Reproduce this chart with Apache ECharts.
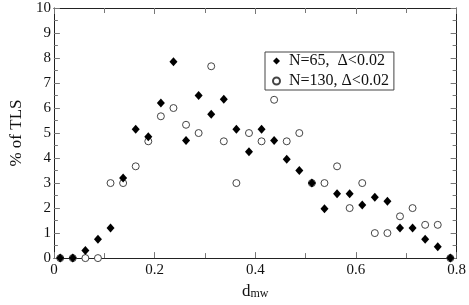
<!DOCTYPE html>
<html>
<head>
<meta charset="utf-8">
<script src="https://cdn.jsdelivr.net/npm/echarts@6/dist/echarts.min.js"></script>
<style>html,body{margin:0;padding:0;background:#fff;}#c{width:469px;height:305px;}</style>
</head>
<body>
<div id="c"></div>
<script>
// bin centres of d_mw
const binCenters = [0.0125,0.0375,0.0625,0.0875,0.1125,0.1375,0.1625,0.1875,0.2125,0.2375,0.2625,0.2875,0.3125,0.3375,0.3625,0.3875,0.4125,0.4375,0.4625,0.4875,0.5125,0.5375,0.5625,0.5875,0.6125,0.6375,0.6625,0.6875,0.7125,0.7375,0.7625,0.7875];
// N=65 (filled diamonds), % of TLS
const n65 = [0,0,0.3,0.75,1.2,3.2,5.15,4.85,6.2,7.85,4.7,6.5,5.75,6.35,5.15,4.25,5.15,4.7,3.95,3.5,3.0,1.97,2.57,2.57,2.12,2.43,2.27,1.2,1.2,0.75,0.45,0];
// N=130 (open circles), % of TLS
const n130 = [0,0,0,0,3.0,3.0,3.67,4.67,5.67,6.0,5.33,5.0,7.67,4.67,3.0,5.0,4.67,6.33,4.67,5.0,3.0,3.0,3.67,2.0,3.0,1.0,1.0,1.67,2.0,1.33,1.33,0];
const xTicks = [0,0.2,0.4,0.6,0.8];
const yTicks = [0,1,2,3,4,5,6,7,8,9,10];
const names = ['N=65,  \u0394<0.02','N=130, \u0394<0.02'];

const FONT = 'Liberation Serif';
const chart = echarts.init(document.getElementById('c'), null, {renderer:'canvas'});
function xa(pos, showLabel){
  return {
    type:'value', position:pos, min:xTicks[0], max:xTicks[xTicks.length-1], interval:0.2,
    axisLine:{show:true, onZero:false, lineStyle:{color:'#222', width:1}},
    axisTick:{show:true, inside:true, length:6, lineStyle:{color:'#777'}},
    minorTick:{show:true, splitNumber:2, length:5, lineStyle:{color:'#777'}},
    splitLine:{show:false},
    axisLabel:{show:showLabel, color:'#111', fontFamily:FONT, fontSize:15, margin:4,
      formatter:v=>String(+v.toFixed(1))}
  };
}
function ya(pos, showLabel){
  return {
    type:'value', position:pos, min:yTicks[0], max:yTicks[yTicks.length-1], interval:1,
    axisLine:{show:true, onZero:false, lineStyle:{color:'#222', width:1}},
    axisTick:{show:true, inside:true, length:6, lineStyle:{color:'#777'}},
    minorTick:{show:true, splitNumber:2, length:4, lineStyle:{color:'#777'}},
    splitLine:{show:false},
    axisLabel:{show:showLabel, color:'#111', fontFamily:FONT, fontSize:15, margin:3}
  };
}
const xBottom = xa('bottom', true);
xBottom.name = '{d|d}{s|mw}';
xBottom.nameLocation = 'middle';
xBottom.nameGap = 20;
xBottom.nameTextStyle = {rich:{
  d:{fontFamily:FONT, fontSize:17, color:'#111', lineHeight:17, verticalAlign:'top'},
  s:{fontFamily:FONT, fontSize:12, color:'#111', lineHeight:12, verticalAlign:'bottom', padding:[6,0,0,0]}
}};
const yLeft = ya('left', true);
yLeft.name = '% of TLS';
yLeft.nameLocation = 'middle';
yLeft.nameGap = 26;
yLeft.nameTextStyle = {fontFamily:FONT, fontSize:17, color:'#111'};

chart.setOption({
  animation:false,
  backgroundColor:'#fff',
  grid:{left:34, right:11, top:8, bottom:37},
  legend:{
    data:[names[0], names[1]], orient:'vertical', left:265, top:52,
    backgroundColor:'#fff', borderColor:'#444', borderWidth:1,
    padding:[1,5,1,7], itemGap:4, itemWidth:7, itemHeight:7,
    textStyle:{fontFamily:FONT, fontSize:16, color:'#111', lineHeight:16, padding:[0,0,0,4]}
  },
  xAxis:[xBottom, xa('top', false)],
  yAxis:[yLeft, ya('right', false)],
  series:[
    {name:names[1], type:'scatter', symbol:'circle', symbolSize:7,
     itemStyle:{color:'#fff', borderColor:'#444', borderWidth:1, opacity:1},
     data:binCenters.map((x,i)=>[x,n130[i]]), z:2},
    {name:names[0], type:'scatter', symbol:'diamond', symbolSize:[8,9],
     itemStyle:{color:'#000', opacity:1},
     data:binCenters.map((x,i)=>[x,n65[i]]), z:3}
  ]
});
</script>
</body>
</html>
